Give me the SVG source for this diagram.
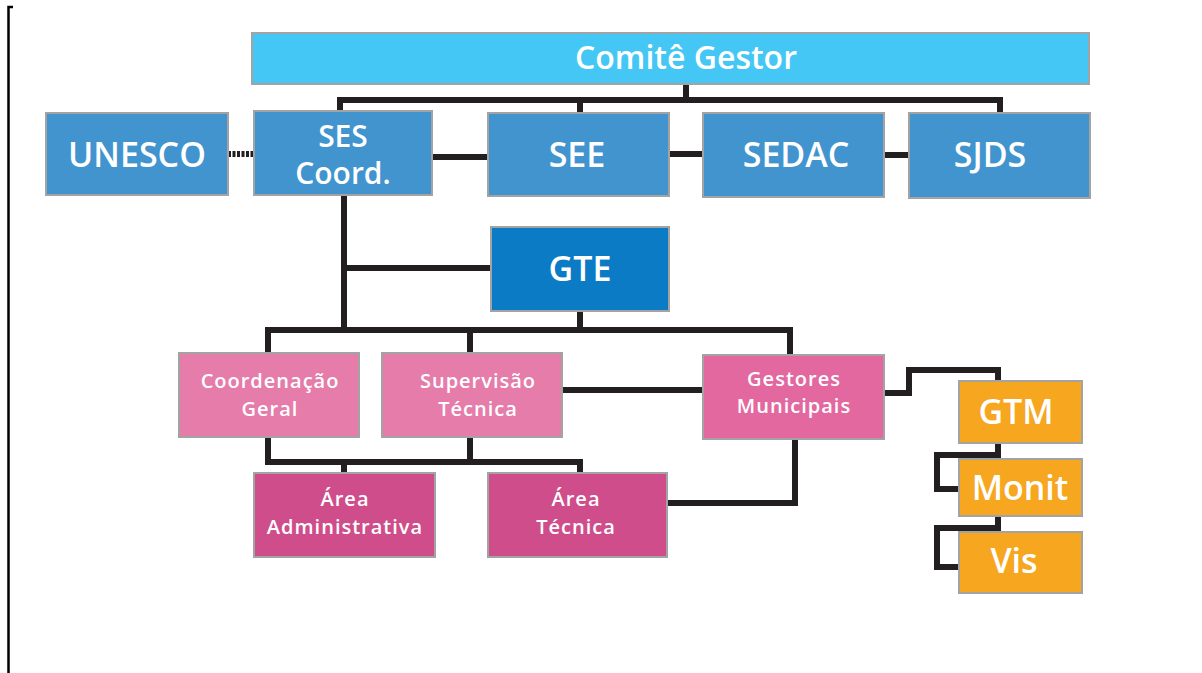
<svg xmlns="http://www.w3.org/2000/svg" width="1202" height="673" viewBox="0 0 1202 673">
<style>
.box{stroke:#a3a3a3;stroke-width:2}
.blue{fill:#4294cf}
.cyan{fill:#45c7f5}
.gte{fill:#0a7bc4}
.pink{fill:#e57caa}
.pink2{fill:#e3689f}
.mag{fill:#cf4d8b}
.org{fill:#f6a61f}
text{font-family:"Open Sans","Noto Sans",sans-serif;fill:#fff;text-anchor:middle;font-weight:600}
.big{font-size:34px}
.mid{font-size:20px;letter-spacing:1px}
.ln{fill:none;stroke:#231f20;stroke-width:6}
</style>
<rect width="1202" height="673" fill="#fff"/>
<path d="M13,7 H8.5 V673" fill="none" stroke="#000" stroke-width="2.5"/>
<g id="connectors">
<path class="ln" d="M686,84 V100 M340,111 V100 H1000 V113 M580,100 V113"/>
<path class="ln" d="M432,157 H488 M669,154 H703 M884,155 H909"/>
<path d="M228,154 H254" fill="none" stroke="#231f20" stroke-width="6" stroke-dasharray="3,1.5"/>
<path class="ln" d="M344,195 V330 M344,268 H491 M580,311 V330 M268,353 V330 H790 V355 M470,330 V353"/>
<path class="ln" d="M562,390 H703"/>
<path class="ln" d="M268,437 V462 H580 V473 M470,437 V462 M344,462 V473"/>
<path class="ln" d="M795,439 V503 H667"/>
<path class="ln" d="M884,393 H909 V370 H998 V381"/>
<path class="ln" d="M998,443 V455 H937 V489 H959"/>
<path class="ln" d="M998,516 V528 H937 V567 H959"/>
</g>
<g id="comite"><rect class="box cyan" x="252" y="33" width="837" height="51"/><text x="686" y="69" font-size="32">Comitê Gestor</text></g>
<g id="unesco"><rect class="box blue" x="46" y="113" width="182" height="82"/><text class="big" x="137" y="167">UNESCO</text></g>
<g id="ses"><rect class="box blue" x="254" y="111" width="178" height="84"/><text x="343" y="147" font-size="30">SES</text><text x="343" y="184" font-size="30">Coord.</text></g>
<g id="see"><rect class="box blue" x="488" y="113" width="181" height="83"/><text class="big" x="577" y="167">SEE</text></g>
<g id="sedac"><rect class="box blue" x="703" y="113" width="181" height="84"/><text class="big" x="796" y="167">SEDAC</text></g>
<g id="sjds"><rect class="box blue" x="909" y="113" width="181" height="85"/><text class="big" x="990" y="167">SJDS</text></g>
<g id="gte"><rect class="box gte" x="491" y="227" width="178" height="84"/><text class="big" x="580" y="281">GTE</text></g>
<g id="coordgeral"><rect class="box pink" x="179" y="353" width="180" height="84"/><text class="mid" x="270" y="388">Coordenação</text><text class="mid" x="270" y="416">Geral</text></g>
<g id="supervisao"><rect class="box pink" x="382" y="353" width="180" height="84"/><text class="mid" x="478" y="388">Supervisão</text><text class="mid" x="478" y="416">Técnica</text></g>
<g id="gestores"><rect class="box pink2" x="703" y="355" width="181" height="84"/><text class="mid" x="794" y="386" font-size="19">Gestores</text><text class="mid" x="794" y="413" font-size="19">Municipais</text></g>
<g id="areaadm"><rect class="box mag" x="254" y="473" width="181" height="84"/><text class="mid" x="345" y="506">Área</text><text class="mid" x="345" y="534">Administrativa</text></g>
<g id="areatec"><rect class="box mag" x="488" y="473" width="179" height="84"/><text class="mid" x="576" y="506">Área</text><text class="mid" x="576" y="534">Técnica</text></g>
<g id="gtm"><rect class="box org" x="959" y="381" width="123" height="62"/><text class="big" x="1016" y="424">GTM</text></g>
<g id="monit"><rect class="box org" x="959" y="459" width="123" height="57"/><text class="big" x="1020" y="500">Monit</text></g>
<g id="vis"><rect class="box org" x="959" y="532" width="123" height="61"/><text class="big" x="1014" y="573">Vis</text></g>
</svg>
